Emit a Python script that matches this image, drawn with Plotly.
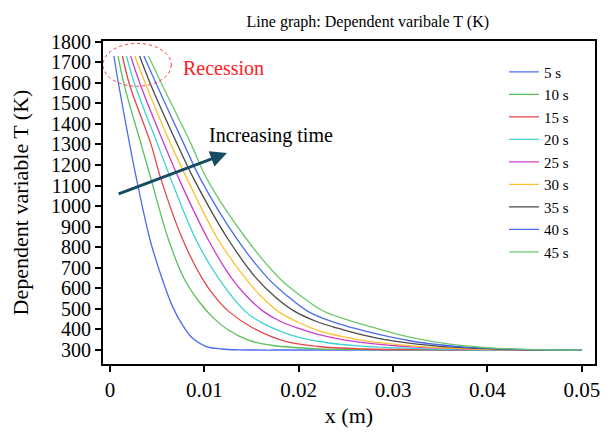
import plotly.graph_objects as go

# ---- data ----
labels = ["5 s", "10 s", "15 s", "20 s", "25 s", "30 s", "35 s", "40 s", "45 s"]
colors = ["#4a6cf0", "#5cbf5c", "#e04848", "#3fd2d2", "#cc3ccc", "#ffc030", "#4a4a4a", "#4a6cf0", "#6cc86c"]

x_5s = [0.00042, 0.00094, 0.00210, 0.00283, 0.00423, 0.00553, 0.00664, 0.00769, 0.00874, 0.01014, 0.01188, 0.01364, 0.01993, 0.05]
T_5s = [1730, 1588, 1299, 1130, 840, 647, 511, 422, 358, 318, 305, 301, 300, 300]

x_10s = [0.00087, 0.00152, 0.00332, 0.00437, 0.00619, 0.00787, 0.00944, 0.01101, 0.01259, 0.01468, 0.01731, 0.02203, 0.03042, 0.05]
T_10s = [1730, 1588, 1299, 1130, 840, 647, 536, 454, 396, 348, 322, 306, 301, 300]

x_15s = [0.00133, 0.00210, 0.00437, 0.00542, 0.00769, 0.00979, 0.01112, 0.01259, 0.01521, 0.01853, 0.02203, 0.02727, 0.03252, 0.04091, 0.05]
T_15s = [1730, 1588, 1299, 1130, 840, 647, 560, 488, 406, 343, 317, 305, 302, 300, 300]

x_20s = [0.00175, 0.00267, 0.00507, 0.00647, 0.00909, 0.01154, 0.01434, 0.01594, 0.01783, 0.01993, 0.02255, 0.02622, 0.03252, 0.04091, 0.05]
T_20s = [1730, 1588, 1299, 1130, 840, 647, 488, 437, 396, 363, 339, 320, 307, 300, 300]

x_25s = [0.00220, 0.00325, 0.00577, 0.00734, 0.01038, 0.01293, 0.01447, 0.01626, 0.01804, 0.01993, 0.02203, 0.02465, 0.02832, 0.03356, 0.04091, 0.04720, 0.05]
T_25s = [1730, 1588, 1299, 1130, 840, 647, 563, 488, 440, 406, 376, 351, 329, 312, 302, 300, 300]

x_30s = [0.00265, 0.00383, 0.00647, 0.00821, 0.01143, 0.01440, 0.01605, 0.01783, 0.01993, 0.02203, 0.02465, 0.02727, 0.03252, 0.03881, 0.04615, 0.05]
T_30s = [1730, 1588, 1299, 1130, 840, 647, 560, 488, 435, 396, 365, 343, 318, 305, 300, 300]

x_35s = [0.00315, 0.00435, 0.00716, 0.00892, 0.01251, 0.01555, 0.01752, 0.01958, 0.02182, 0.02412, 0.02643, 0.02884, 0.03252, 0.03776, 0.04405, 0.05]
T_35s = [1730, 1588, 1299, 1130, 840, 647, 558, 488, 440, 406, 377, 353, 329, 310, 301, 300]

x_40s = [0.00360, 0.00498, 0.00787, 0.00962, 0.01346, 0.01678, 0.01888, 0.02098, 0.02339, 0.02588, 0.02884, 0.03252, 0.03776, 0.04405, 0.05]
T_40s = [1730, 1588, 1299, 1130, 840, 647, 560, 488, 440, 406, 372, 339, 314, 302, 300]

x_45s = [0.00409, 0.00556, 0.00863, 0.01031, 0.01447, 0.01801, 0.02024, 0.02255, 0.02517, 0.02780, 0.03042, 0.03252, 0.03566, 0.03986, 0.04510, 0.05]
T_45s = [1730, 1588, 1299, 1130, 840, 647, 563, 491, 447, 411, 377, 355, 331, 312, 302, 300]

xs = [x_5s, x_10s, x_15s, x_20s, x_25s, x_30s, x_35s, x_40s, x_45s]
Ts = [T_5s, T_10s, T_15s, T_20s, T_25s, T_30s, T_35s, T_40s, T_45s]

x_tickvals = [0, 0.01, 0.02, 0.03, 0.04, 0.05]
x_ticktext = ["0", "0.01", "0.02", "0.03", "0.04", "0.05"]
y_tickvals = list(range(300, 1801, 100))

FONT = "Liberation Serif"

fig = go.Figure()
for x, T, name, c in zip(xs, Ts, labels, colors):
    fig.add_trace(go.Scatter(x=x, y=T, mode="lines", name=name,
                             line=dict(color=c, width=1.3, shape="spline", smoothing=1.0)))

# dashed ellipse around the recession region
fig.add_shape(type="circle", xref="x", yref="y",
              x0=-0.00073, x1=0.0065, y0=1583, y1=1791,
              line=dict(color="#ff3030", width=1, dash="dot"))

fig.add_annotation(x=0.00752, y=1671, xref="x", yref="y", text="Recession",
                   showarrow=False, xanchor="left",
                   font=dict(family=FONT, size=20, color="#ff2020"))

# increasing-time arrow
fig.add_annotation(x=0.01241, y=1258, ax=0.00077, ay=1057,
                   xref="x", yref="y", axref="x", ayref="y",
                   text="", showarrow=True, arrowhead=2, arrowsize=1.1,
                   arrowwidth=3, arrowcolor="#174a63")
fig.add_annotation(x=0.01028, y=1342, xref="x", yref="y", text="Increasing time",
                   showarrow=False, xanchor="left",
                   font=dict(family=FONT, size=20, color="black"))

fig.update_layout(
    width=612, height=436,
    margin=dict(l=103, r=12, t=41, b=70),
    paper_bgcolor="white", plot_bgcolor="white",
    title=dict(text="Line graph: Dependent varibale T (K)", x=0.601, xanchor="center",
               y=0.963, font=dict(family=FONT, size=16, color="black")),
    legend=dict(x=0.815, y=0.955, xanchor="left", yanchor="top",
                font=dict(family=FONT, size=15, color="black")),
    xaxis=dict(range=[-0.00073, 0.0514], tickvals=x_tickvals, ticktext=x_ticktext,
               showgrid=False, zeroline=False, showline=True, linecolor="black", linewidth=2,
               mirror=True, ticks="outside", ticklen=6, tickwidth=2, tickcolor="black",
               tickfont=dict(family=FONT, size=21, color="black"),
               title=dict(text="x (m)", font=dict(family=FONT, size=22, color="black"), standoff=6)),
    yaxis=dict(range=[232, 1803], tickvals=y_tickvals,
               showgrid=False, zeroline=False, showline=True, linecolor="black", linewidth=2,
               mirror=True, ticks="outside", ticklen=6, tickwidth=2, tickcolor="black",
               tickfont=dict(family=FONT, size=20, color="black"),
               title=dict(text="Dependent variable T (K)", font=dict(family=FONT, size=22, color="black"), standoff=16)),
)

fig.write_html("out.html", config={"displayModeBar": False},
               post_script="document.body.style.margin='0';")
